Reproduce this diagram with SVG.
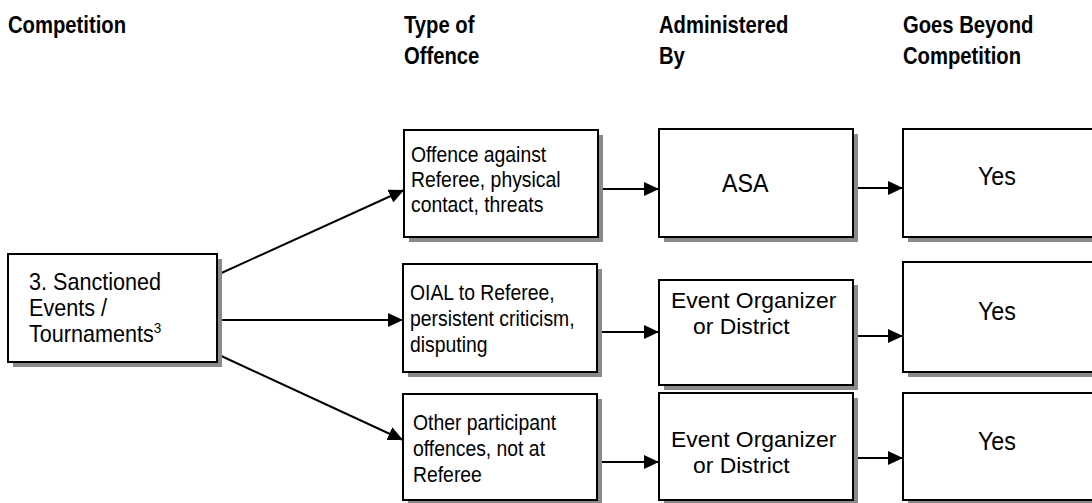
<svg xmlns="http://www.w3.org/2000/svg" width="1092" height="503" viewBox="0 0 1092 503">
  <style>
    .hdr { font-family: "Liberation Sans", Arial, sans-serif; font-weight: bold; font-size: 23px; fill: #000; }
    .txt { font-family: "Liberation Sans", Arial, sans-serif; font-size: 22px; fill: #000; }
    .big { font-family: "Liberation Sans", Arial, sans-serif; font-size: 24px; fill: #000; }
    .mid { font-family: "Liberation Sans", Arial, sans-serif; font-size: 25px; fill: #000; }
    .org { font-family: "Liberation Sans", Arial, sans-serif; font-size: 22px; fill: #000; }
    .box { fill: #fff; stroke: #000; stroke-width: 2; }
    .shadow { fill: #8a8a8a; }
    .conn { stroke: #000; stroke-width: 2; fill: none; marker-end: url(#arrow); }
  </style>
  <defs>
    <marker id="arrow" markerUnits="userSpaceOnUse" markerWidth="15" markerHeight="14" refX="15" refY="7" orient="auto">
      <path d="M0,0 L15,7 L0,14 z" fill="#000"/>
    </marker>
  </defs>
  <rect width="1092" height="503" fill="#fff"/>

  <!-- column headings -->
  <g id="headers">
    <text class="hdr" transform="translate(8,33) scale(0.88,1)">Competition</text>
    <text class="hdr" transform="translate(404,33) scale(0.88,1)">Type of</text>
    <text class="hdr" transform="translate(404,64) scale(0.88,1)">Offence</text>
    <text class="hdr" transform="translate(659,33) scale(0.88,1)">Administered</text>
    <text class="hdr" transform="translate(659,64) scale(0.88,1)">By</text>
    <text class="hdr" transform="translate(903,33) scale(0.88,1)">Goes Beyond</text>
    <text class="hdr" transform="translate(903,64) scale(0.88,1)">Competition</text>
  </g>

  <g id="connectors">
    <line class="conn" x1="217" y1="275" x2="404" y2="190"/>
    <line class="conn" x1="217" y1="320" x2="403" y2="320"/>
    <line class="conn" x1="217" y1="354" x2="403" y2="440"/>
    <line class="conn" x1="598" y1="189" x2="659" y2="189"/>
    <line class="conn" x1="598" y1="332" x2="659" y2="332"/>
    <line class="conn" x1="598" y1="462" x2="659" y2="462"/>
    <line class="conn" x1="853" y1="188" x2="903" y2="188"/>
    <line class="conn" x1="853" y1="336" x2="903" y2="336"/>
    <line class="conn" x1="853" y1="458" x2="903" y2="458"/>
  </g>

  <g id="competition">
    <rect class="shadow" x="13" y="259" width="209" height="108"/>
    <rect class="box" x="8" y="254" width="209" height="108"/>
    <text class="big" transform="translate(29,290) scale(0.9,1)">3. Sanctioned</text>
    <text class="big" transform="translate(29,316) scale(0.9,1)">Events /</text>
    <text class="big" transform="translate(29,342) scale(0.9,1)">Tournaments<tspan font-size="15" dy="-9">3</tspan></text>
  </g>

  <g id="offence-referee">
    <rect class="shadow" x="409" y="135" width="194" height="107"/>
    <rect class="box" x="404" y="130" width="194" height="107"/>
    <text class="txt" transform="translate(411,162) scale(0.88,1)">Offence against</text>
    <text class="txt" transform="translate(411,187) scale(0.88,1)">Referee, physical</text>
    <text class="txt" transform="translate(411,212) scale(0.88,1)">contact, threats</text>
  </g>

  <g id="offence-oial">
    <rect class="shadow" x="408" y="269" width="194" height="108"/>
    <rect class="box" x="403" y="264" width="194" height="108"/>
    <text class="txt" transform="translate(410,300) scale(0.88,1)">OIAL to Referee,</text>
    <text class="txt" transform="translate(410,326) scale(0.88,1)">persistent criticism,</text>
    <text class="txt" transform="translate(410,352) scale(0.88,1)">disputing</text>
  </g>

  <g id="offence-other">
    <rect class="shadow" x="408" y="399" width="194" height="106"/>
    <rect class="box" x="403" y="394" width="194" height="106"/>
    <text class="txt" transform="translate(413,430) scale(0.88,1)">Other participant</text>
    <text class="txt" transform="translate(413,456) scale(0.88,1)">offences, not at</text>
    <text class="txt" transform="translate(413,482) scale(0.88,1)">Referee</text>
  </g>

  <g id="admin-asa">
    <rect class="shadow" x="664" y="134" width="194" height="108"/>
    <rect class="box" x="659" y="129" width="194" height="108"/>
    <text class="mid" transform="translate(722,192) scale(0.93,1)">ASA</text>
  </g>

  <g id="admin-event-1">
    <rect class="shadow" x="664" y="285" width="194" height="105"/>
    <rect class="box" x="659" y="280" width="194" height="105"/>
    <text class="org" transform="translate(671,308) scale(1.04,1)">Event Organizer</text>
    <text class="org" transform="translate(693,334) scale(1.04,1)">or District</text>
  </g>

  <g id="admin-event-2">
    <rect class="shadow" x="664" y="398" width="194" height="107"/>
    <rect class="box" x="659" y="393" width="194" height="107"/>
    <text class="org" transform="translate(671,447) scale(1.04,1)">Event Organizer</text>
    <text class="org" transform="translate(693,473) scale(1.04,1)">or District</text>
  </g>

  <g id="beyond-1">
    <rect class="shadow" x="908" y="134" width="200" height="108"/>
    <rect class="box" x="903" y="129" width="200" height="108"/>
    <text class="mid" transform="translate(978,185) scale(0.93,1)">Yes</text>
  </g>

  <g id="beyond-2">
    <rect class="shadow" x="908" y="267" width="200" height="110"/>
    <rect class="box" x="903" y="262" width="200" height="110"/>
    <text class="mid" transform="translate(978,320) scale(0.93,1)">Yes</text>
  </g>

  <g id="beyond-3">
    <rect class="shadow" x="908" y="398" width="200" height="107"/>
    <rect class="box" x="903" y="393" width="200" height="107"/>
    <text class="mid" transform="translate(978,450) scale(0.93,1)">Yes</text>
  </g>
</svg>
